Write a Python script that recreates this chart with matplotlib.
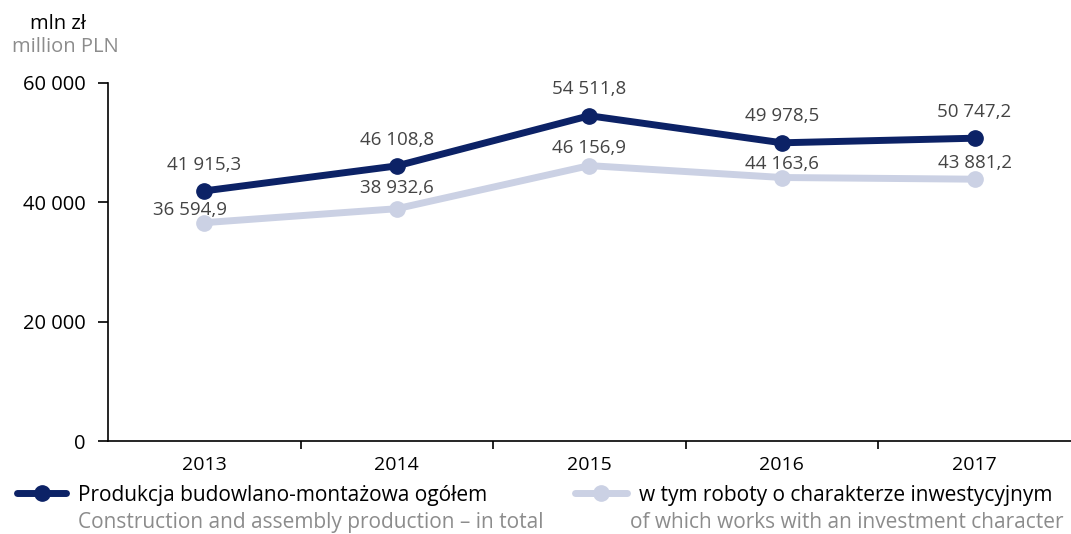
import matplotlib.pyplot as plt
from matplotlib.lines import Line2D

plt.rcParams['font.family'] = ['Open Sans', 'DejaVu Sans']

years = ['2013', '2014', '2015', '2016', '2017']
total = [41915.3, 46108.8, 54511.8, 49978.5, 50747.2]
invest = [36594.9, 38932.6, 46156.9, 44163.6, 43881.2]
total_labels = ['41 915,3', '46 108,8', '54 511,8', '49 978,5', '50 747,2']
invest_labels = ['36 594,9', '38 932,6', '46 156,9', '44 163,6', '43 881,2']

dark = '#0c2266'
light = '#cbd1e4'
grey = '#8c8c8c'

fig = plt.figure(figsize=(10.71, 5.34), dpi=100)
ax = fig.add_axes([0.1008, 0.174, 0.899, 0.6706])

x = list(range(len(years)))
ax.plot(x, invest, color=light, lw=5, marker='o', ms=11, solid_capstyle='round', zorder=2)
ax.plot(x, total, color=dark, lw=5, marker='o', ms=11, solid_capstyle='round', zorder=3)

for i in x:
    ax.annotate(total_labels[i], (i, total[i]), xytext=(0, 19), textcoords='offset points',
                ha='center', va='center', fontsize=13.5, color='#444444')
inv_off = [(-10, 9), (0, 15), (0, 13), (0, 10), (0, 12)]
for i in x:
    ax.annotate(invest_labels[i], (i, invest[i]), xytext=inv_off[i], textcoords='offset points',
                ha='center', va='center', fontsize=13.5, color='#444444')

ax.set_xlim(-0.5, 4.5)
ax.set_ylim(0, 60000)
ax.set_yticks([0, 20000, 40000, 60000])
ax.set_yticklabels(['0', '20 000', '40 000', '60 000'], fontsize=14.5)
ax.set_xticks([i + 0.5 for i in x[:-1]])
ax.set_xticklabels([])
ax.set_xticks(x, minor=True)
ax.set_xticklabels(years, minor=True, fontsize=14)
ax.tick_params(axis='x', which='minor', length=0, pad=11)
ax.tick_params(axis='x', which='major', length=6, width=1.2)
ax.tick_params(axis='y', length=7, width=1.2, pad=9)
for s in ['top', 'right']:
    ax.spines[s].set_visible(False)
ax.spines['left'].set_linewidth(1.2)
ax.spines['bottom'].set_linewidth(1.2)

fig.text(0.028, 0.955, 'mln zł', fontsize=14.5, color='black', va='center')
fig.text(0.011, 0.912, 'million PLN', fontsize=14.5, color=grey, va='center')

# legend
fig.add_artist(Line2D([0.016, 0.039, 0.062], [0.077, 0.077, 0.077], transform=fig.transFigure,
                      color=dark, lw=5, marker='o', markevery=[1], ms=11,
                      solid_capstyle='round'))
fig.text(0.073, 0.073, 'Produkcja budowlano-montażowa ogółem', fontsize=15, va='center')
fig.text(0.073, 0.022, 'Construction and assembly production – in total', fontsize=15,
         color=grey, va='center')
fig.add_artist(Line2D([0.537, 0.561, 0.585], [0.077, 0.077, 0.077], transform=fig.transFigure,
                      color=light, lw=5, marker='o', markevery=[1], ms=11,
                      solid_capstyle='round'))
fig.text(0.597, 0.073, 'w tym roboty o charakterze inwestycyjnym', fontsize=15, va='center')
fig.text(0.588, 0.022, 'of which works with an investment character', fontsize=15,
         color=grey, va='center')

fig.savefig('out.png', dpi=100)
